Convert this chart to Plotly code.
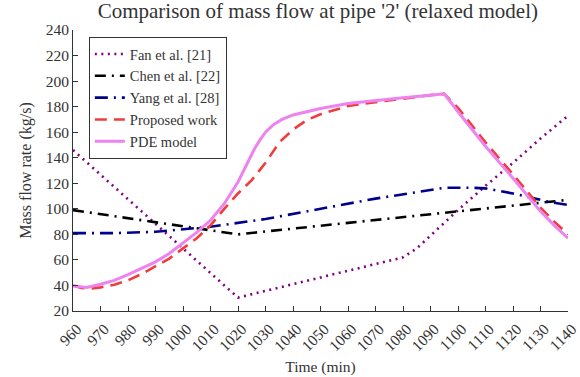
import plotly.graph_objects as go

# Fan et al. [21]
fan_t = [960, 1020, 1080, 1085, 1090, 1095, 1100, 1110, 1120, 1130, 1140]
fan_v = [146, 30.5, 62, 69, 79, 89, 99, 118, 136, 155, 173]

# Chen et al. [22]
chen_t = [960, 990, 1020, 1060, 1100, 1140]
chen_v = [99, 89.5, 80, 89, 98, 107]

# Yang et al. [28]
yang_t = [960, 975, 990, 1010, 1030, 1050, 1070, 1085, 1095, 1105, 1110, 1120, 1133, 1140]
yang_v = [81, 81, 82, 86, 92, 100, 108, 113, 116.5, 116.5, 116, 112, 105.5, 103]

# Proposed work
prop_t = [960, 963, 966, 970, 975, 980, 985, 990, 995, 1000, 1005, 1010, 1015, 1020, 1025,
          1030, 1035, 1040, 1045, 1050, 1060, 1070, 1080, 1090, 1095, 1100, 1110, 1120,
          1130, 1135, 1140]
prop_v = [40, 38, 37.5, 38.5, 40.5, 44, 49, 55, 61, 69, 77, 87, 100, 112, 122.5,
          136, 152, 162, 169.5, 174, 180.5, 183.5, 186.5, 189, 190, 179, 152, 127,
          101, 90, 80]

# PDE model
pde_t = [960, 965, 970, 975, 980, 985, 990, 995, 1000, 1005, 1010, 1015, 1020, 1023,
         1026, 1028, 1030, 1033, 1036, 1040, 1045, 1050, 1060, 1070, 1080, 1090, 1095,
         1100, 1110, 1120, 1125, 1130, 1135, 1140]
pde_v = [39.5, 38.5, 41, 44, 48.5, 53.5, 58.5, 65, 73, 81.5, 91, 104, 121, 134,
         147, 154, 160, 166, 170, 173.5, 176, 178.5, 182.5, 185, 187, 189, 190,
         176, 149, 124, 111, 98, 87, 77]

x_ticks = list(range(960, 1141, 10))
y_ticks = list(range(20, 241, 20))

FONT = "Liberation Serif"
TXT = "#333333"

fig = go.Figure()
fig.add_trace(go.Scatter(x=fan_t, y=fan_v, mode="lines", name="Fan et al. [21]",
                         line=dict(color="#800080", width=2.6, dash="2px,4.5px")))
fig.add_trace(go.Scatter(x=chen_t, y=chen_v, mode="lines", name="Chen et al. [22]",
                         line=dict(color="black", width=2.6, dash="11px,6px,2px,6px")))
fig.add_trace(go.Scatter(x=yang_t, y=yang_v, mode="lines", name="Yang et al. [28]",
                         line=dict(color="#00008B", width=2.6, dash="13px,6px,2px,6px")))
fig.add_trace(go.Scatter(x=prop_t, y=prop_v, mode="lines", name="Proposed work",
                         line=dict(color="#F03C3C", width=2.6, dash="12px,7px")))
fig.add_trace(go.Scatter(x=pde_t, y=pde_v, mode="lines", name="PDE model",
                         line=dict(color="#EE82EE", width=3)))

fig.update_layout(
    width=580, height=377,
    margin=dict(l=73, r=12, t=30, b=66),
    paper_bgcolor="white", plot_bgcolor="white",
    font=dict(family=FONT, size=15, color=TXT),
    title=dict(text="Comparison of mass flow at pipe '2' (relaxed model)",
               x=0.548, xanchor="center", y=0.99, yanchor="top",
               font=dict(family=FONT, size=21, color=TXT)),
    showlegend=True,
    legend=dict(x=0.032, y=0.975, xanchor="left", yanchor="top",
                bgcolor="white", bordercolor=TXT, borderwidth=1,
                font=dict(family=FONT, size=14.5, color=TXT),
                tracegroupgap=0),
    xaxis=dict(range=[960, 1140], tickvals=x_ticks, ticktext=[str(v) for v in x_ticks],
               tickangle=-45, ticks="inside", ticklen=5, tickcolor=TXT,
               ticklabelshift=4, ticklabelstandoff=2, automargin=False,
               tickfont=dict(family=FONT, size=15.5, color=TXT),
               showline=True, linecolor=TXT, linewidth=1, mirror=False,
               showgrid=False, zeroline=False,
               title=dict(text="Time (min)", standoff=7,
                          font=dict(family=FONT, size=15.5))),
    yaxis=dict(range=[20, 240], tickvals=y_ticks, ticks="inside", ticklen=5,
               tickcolor=TXT, tickfont=dict(family=FONT, size=15.5, color=TXT),
               automargin=False,
               showline=True, linecolor=TXT, linewidth=1, mirror=False,
               showgrid=False, zeroline=False,
               title=dict(text="Mass flow rate (kg/s)", standoff=10,
                          font=dict(family=FONT, size=16))),
)

fig.write_html("out.html")
